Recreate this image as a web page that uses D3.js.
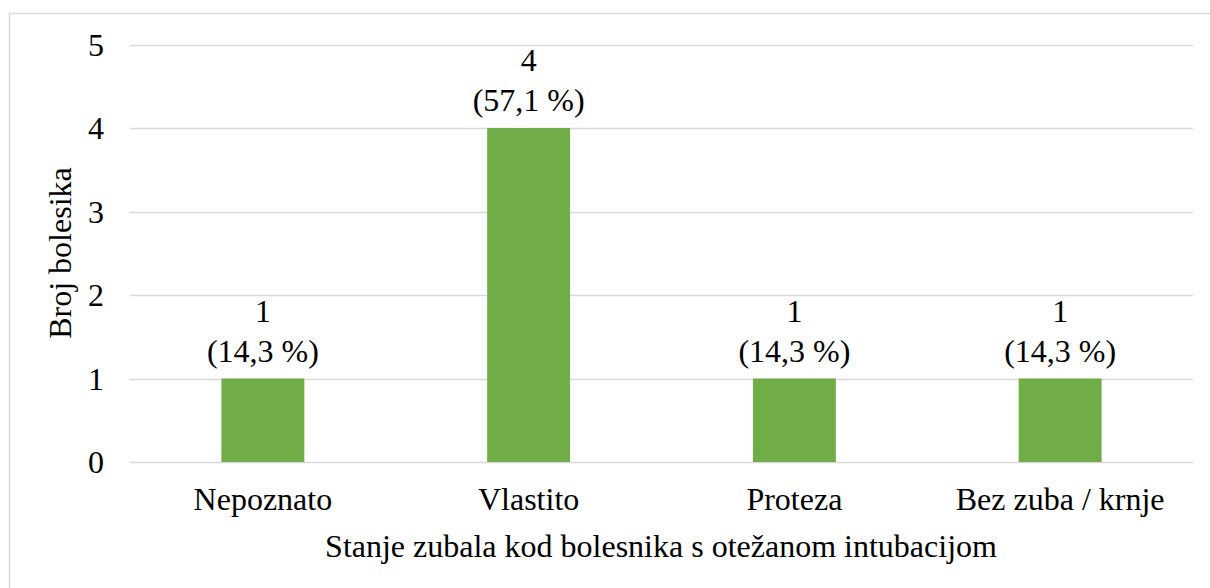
<!DOCTYPE html>
<html><head><meta charset="utf-8">
<script src="https://cdn.jsdelivr.net/npm/d3@7"></script>
<style>html,body{margin:0;padding:0;background:#fff;}</style>
</head><body>
<svg id="c" width="1210" height="588"></svg>
<script>
const categories = ["Nepoznato", "Vlastito", "Proteza", "Bez zuba / krnje"];
const values = [1, 4, 1, 1];
const percentLabels = ["(14,3 %)", "(57,1 %)", "(14,3 %)", "(14,3 %)"];
const yTicks = [0, 1, 2, 3, 4, 5];
const yTitle = "Broj bolesika";
const xTitle = "Stanje zubala kod bolesnika s otežanom intubacijom";

const svg = d3.select("#c");
const ff = "'Times New Roman', Tinos, 'Liberation Serif', 'DejaVu Serif', serif";
svg.attr("font-family", ff);

// size the font so the x-axis title spans the width it has in the reference
const probe = svg.append("text").attr("font-size", 32).text(xTitle);
const w = probe.node().getComputedTextLength();
probe.remove();
const fs = Math.min(32, 32 * 675 / w);

svg.append("rect").attr("x", 9.5).attr("y", 13.5).attr("width", 1220).attr("height", 600)
  .attr("fill", "none").attr("stroke", "#d9d9d9").attr("stroke-width", 1.5);

const x = d3.scaleBand().domain(categories).range([130, 1193]).paddingInner(0.688).paddingOuter(0.344);
const y = d3.scaleLinear().domain([0, 5]).range([462, 44.5]);

svg.append("g").selectAll("line").data(yTicks).join("line")
  .attr("x1", 130).attr("x2", 1193)
  .attr("y1", d => Math.round(y(d)) + 0.5).attr("y2", d => Math.round(y(d)) + 0.5)
  .attr("stroke", "#d9d9d9").attr("stroke-width", 1.5);

svg.append("g").selectAll("text").data(yTicks).join("text")
  .attr("x", 104).attr("y", d => y(d) + 11)
  .attr("text-anchor", "end").attr("font-size", fs).text(d => d);

svg.append("g").selectAll("rect").data(values).join("rect")
  .attr("x", (d, i) => x(categories[i])).attr("width", x.bandwidth())
  .attr("y", d => y(d)).attr("height", d => y(0) - y(d))
  .attr("fill", "#70ad47");

const lab = svg.append("g").selectAll("text").data(values).join("text")
  .attr("text-anchor", "middle").attr("font-size", fs);
lab.append("tspan").attr("x", (d, i) => x(categories[i]) + x.bandwidth() / 2)
  .attr("y", d => y(d) - 57).text(d => d);
lab.append("tspan").attr("x", (d, i) => x(categories[i]) + x.bandwidth() / 2)
  .attr("y", d => y(d) - 17).text((d, i) => percentLabels[i]);

svg.append("g").selectAll("text").data(categories).join("text")
  .attr("x", d => x(d) + x.bandwidth() / 2).attr("y", 510)
  .attr("text-anchor", "middle").attr("font-size", fs).text(d => d);

svg.append("text").attr("x", 661).attr("y", 557).attr("text-anchor", "middle")
  .attr("font-size", fs).text(xTitle);
svg.append("text").attr("transform", "translate(71,253) rotate(-90)")
  .attr("text-anchor", "middle").attr("font-size", fs).text(yTitle);
</script>
</body></html>
